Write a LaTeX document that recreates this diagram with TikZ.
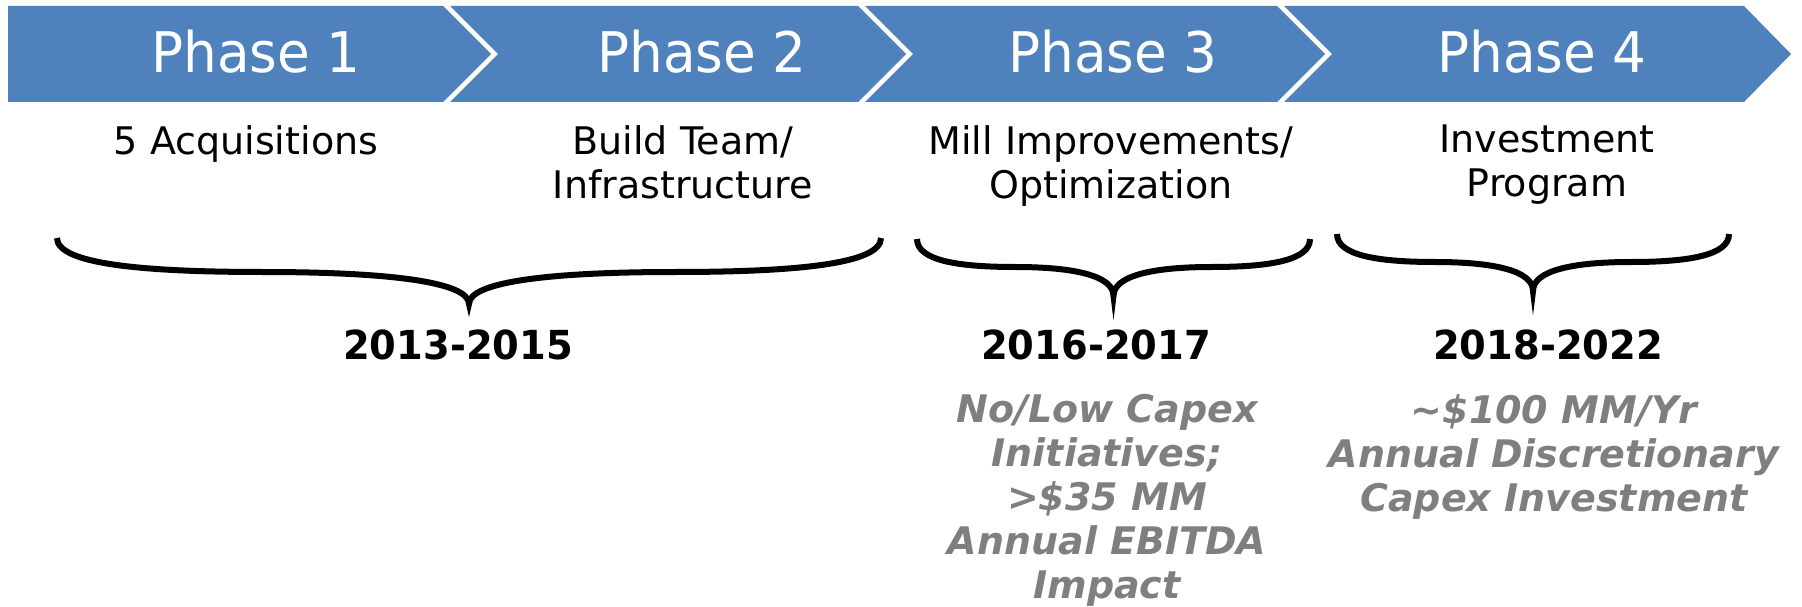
\documentclass[tikz,border=0pt]{standalone}
\usepackage{fontspec}
\setmainfont{DejaVu Sans}[
  BoldFont={DejaVu Sans Bold},
  ItalicFont={DejaVu Sans Oblique},
  BoldItalicFont={DejaVu Sans Bold Oblique}]
\newfontfamily\phasefont{DejaVu Sans}[FakeStretch=0.95]
\newfontfamily\yearfont{DejaVu Sans Bold}[FakeStretch=0.96]
\newfontfamily\notefont{DejaVu Sans Bold Oblique}
\definecolor{phaseblue}{HTML}{4F81BD}
\definecolor{notegray}{HTML}{7F7F7F}
\newcommand\drawbrace[5]{% #1 left x, #2 right x, #3 top y, #4 flat y, #5 tip y
  \pgfmathsetmacro\bM{(#1+#2)/2}%
  \pgfmathsetmacro\bQ{(#1+\bM)/2}%
  \pgfmathsetmacro\bR{(\bM+#2)/2}%
  \draw[bracestroke]
    (#1,#3) .. controls (#1,{#3+0.75*(#4-#3)}) and ({#1+0.4*(\bQ-#1)},#4) .. (\bQ,#4)
    .. controls ({\bQ+0.6*(\bM-\bQ)},#4) and (\bM,{#4+0.3*(#5-#4)}) .. (\bM,#5)
    .. controls (\bM,{#4+0.3*(#5-#4)}) and ({\bR-0.6*(\bR-\bM)},#4) .. (\bR,#4)
    .. controls ({#2-0.4*(#2-\bR)},#4) and (#2,{#3+0.75*(#4-#3)}) .. (#2,#3);
}
\begin{document}
\begin{tikzpicture}[x=1pt,y=-1pt,
  chev/.style={fill=phaseblue,draw=none},
  phaselbl/.style={text=white,font=\phasefont\fontsize{56}{67}\selectfont,inner sep=0pt,anchor=base},
  desc/.style={font=\fontsize{38}{44}\selectfont,align=center,inner sep=0pt,anchor=north},
  yearlbl/.style={font=\yearfont\fontsize{40}{44}\selectfont,inner sep=0pt,anchor=north},
  note/.style={text=notegray,font=\notefont\fontsize{38}{44}\selectfont,align=center,inner sep=0pt,anchor=north},
  bracestroke/.style={draw=black,line width=6pt}]
\useasboundingbox (0,0) rectangle (1802,607);
% chevrons
\fill[chev] (8,6) -- (443,6) -- (491,54) -- (443,102) -- (8,102) -- cycle;
\fill[chev] (450,6) -- (858,6) -- (906,54) -- (858,102) -- (450,102) -- (498,54) -- cycle;
\fill[chev] (865,6) -- (1277,6) -- (1325,54) -- (1277,102) -- (865,102) -- (913,54) -- cycle;
\fill[chev] (1284,6) -- (1744,6) -- (1791,54) -- (1744,102) -- (1284,102) -- (1332,54) -- cycle;
% phase labels
\node[phaselbl] (p1) at (256,73) {Phase 1};
\node[phaselbl] (p2) at (702,73) {Phase 2};
\node[phaselbl] (p3) at (1113,73) {Phase 3};
\node[phaselbl] (p4) at (1542,73) {Phase 4};
% descriptions
\node[desc] (d1) at (246,125) {5 Acquisitions};
\node[desc] (d2) at (683,125) {Build Team/\\Infrastructure};
\node[desc] (d3) at (1111,125) {Mill Improvements/\\Optimization};
\node[desc] (d4) at (1547,125) {Investment\\Program};
% braces
\drawbrace{57}{881}{238}{272}{304}
\drawbrace{917}{1310}{239}{267}{296}
\drawbrace{1337}{1729}{234}{262}{291}
% years
\node[yearlbl] (y1) at (458,330) {2013-2015};
\node[yearlbl] (y2) at (1096,330) {2016-2017};
\node[yearlbl] (y3) at (1548,330) {2018-2022};
% notes
\node[note] (n3) at (1107,394) {No/Low Capex\\Initiatives;\\>\$35 MM\\Annual EBITDA\\Impact};
\node[note] (n4) at (1554,394) {\textasciitilde\$100 MM/Yr\\Annual Discretionary\\Capex Investment};
\end{tikzpicture}
\end{document}
